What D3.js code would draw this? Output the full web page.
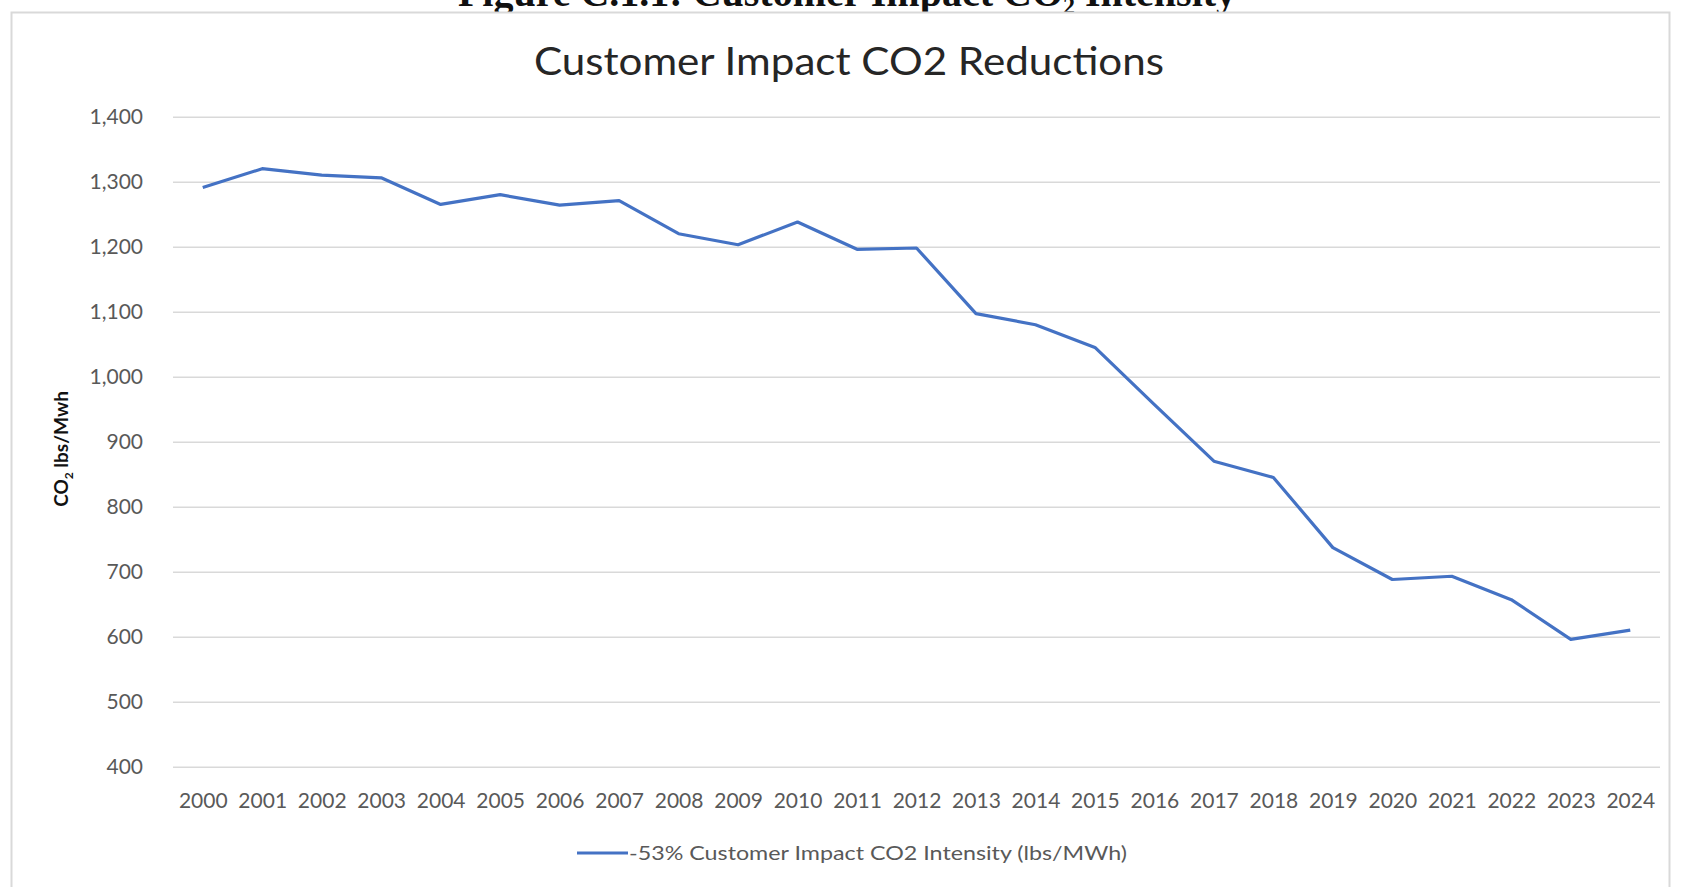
<!DOCTYPE html>
<html>
<head>
<meta charset="utf-8">
<script src="https://cdn.jsdelivr.net/npm/d3@7"></script>
<style>
  body { margin: 0; background: #fff; }
  svg { display: block; }
</style>
</head>
<body>
<div id="chart"></div>
<script>
// data
var years = ['2000','2001','2002','2003','2004','2005','2006','2007','2008','2009','2010','2011','2012',
             '2013','2014','2015','2016','2017','2018','2019','2020','2021','2022','2023','2024'];
var intensity = [1291, 1320, 1310, 1306, 1265, 1280, 1264, 1271, 1220, 1203, 1238, 1196, 1198,
                 1097, 1080, 1045, 957, 870, 845, 737, 688, 693, 657, 596, 610];
var yTicks = [400, 500, 600, 700, 800, 900, 1000, 1100, 1200, 1300, 1400];
var seriesName = '-53% Customer Impact CO2 Intensity (lbs/MWh)';

var pageWidth = 1681;
var pageHeight = 887;
var plot = { left: 173, right: 1660, top: 116.7, bottom: 766.7 };
var lineColor = '#4472c4';
var textColor = '#595959';
var font = 'Lato, "Open Sans", sans-serif';

var svg = d3.select('#chart')
  .append('svg')
  .attr('width', pageWidth)
  .attr('height', pageHeight);

// figure caption, cut off at the top of the page
svg.append('text')
  .attr('x', 847)
  .attr('y', 6)
  .attr('text-anchor', 'middle')
  .attr('font-family', '"Liberation Serif", serif')
  .attr('font-weight', 'bold')
  .attr('font-size', 40)
  .attr('fill', '#111')
  .text('Figure C.1.1: Customer Impact CO\u2082 Intensity');

// chart frame
svg.append('rect')
  .attr('x', 11.5)
  .attr('y', 12.5)
  .attr('width', 1658)
  .attr('height', 900)
  .attr('fill', '#fff')
  .attr('stroke', '#d9d9d9')
  .attr('stroke-width', 2);

svg.append('text')
  .attr('x', 849)
  .attr('y', 75)
  .attr('text-anchor', 'middle')
  .attr('font-family', font)
  .attr('font-size', 39)
  .attr('fill', '#262626')
  .attr('textLength', 630)
  .attr('lengthAdjust', 'spacingAndGlyphs')
  .text('Customer Impact CO2 Reductions');

var xScale = d3.scalePoint()
  .domain(years)
  .range([plot.left, plot.right])
  .padding(0.5);

var yScale = d3.scaleLinear()
  .domain([400, 1400])
  .range([plot.bottom, plot.top]);

// y axis with gridlines
var yAxis = svg.append('g')
  .attr('transform', 'translate(' + plot.left + ',0)')
  .call(d3.axisLeft(yScale)
    .tickValues(yTicks)
    .tickSize(-(plot.right - plot.left))
    .tickPadding(30)
    .tickFormat(d3.format(',')));

yAxis.select('.domain').remove();
yAxis.selectAll('.tick line')
  .attr('stroke', '#d9d9d9')
  .attr('stroke-width', 1.5);
yAxis.selectAll('.tick text')
  .attr('font-family', font)
  .attr('font-size', 21)
  .attr('fill', textColor);

// x axis labels
var xAxis = svg.append('g')
  .attr('transform', 'translate(0,' + plot.bottom + ')')
  .call(d3.axisBottom(xScale).tickSize(0).tickPadding(26));

xAxis.select('.domain').remove();
xAxis.selectAll('.tick text')
  .attr('font-family', font)
  .attr('font-size', 21)
  .attr('fill', textColor);

// y axis title
var yTitle = svg.append('text')
  .attr('transform', 'translate(68,449) rotate(-90)')
  .attr('text-anchor', 'middle')
  .attr('font-family', font)
  .attr('font-weight', 'bold')
  .attr('font-size', 19)
  .attr('fill', '#111');
yTitle.append('tspan').text('CO');
yTitle.append('tspan').attr('font-size', 12).attr('dy', 5).text('2');
yTitle.append('tspan').attr('dy', -5).text(' lbs/Mwh');

// series line
var line = d3.line()
  .x(function(d, i) { return xScale(years[i]); })
  .y(function(d) { return yScale(d); });

svg.append('path')
  .datum(intensity)
  .attr('d', line)
  .attr('fill', 'none')
  .attr('stroke', lineColor)
  .attr('stroke-width', 3.2)
  .attr('stroke-linejoin', 'round');

// legend
var legend = svg.append('g').attr('transform', 'translate(577,853)');
legend.append('line')
  .attr('x1', 0).attr('x2', 51)
  .attr('y1', 0).attr('y2', 0)
  .attr('stroke', lineColor)
  .attr('stroke-width', 3.2);
legend.append('text')
  .attr('x', 52)
  .attr('y', 7)
  .attr('font-family', font)
  .attr('font-size', 20)
  .attr('fill', textColor)
  .attr('textLength', 498)
  .attr('lengthAdjust', 'spacingAndGlyphs')
  .text(seriesName);
</script>
</body>
</html>
